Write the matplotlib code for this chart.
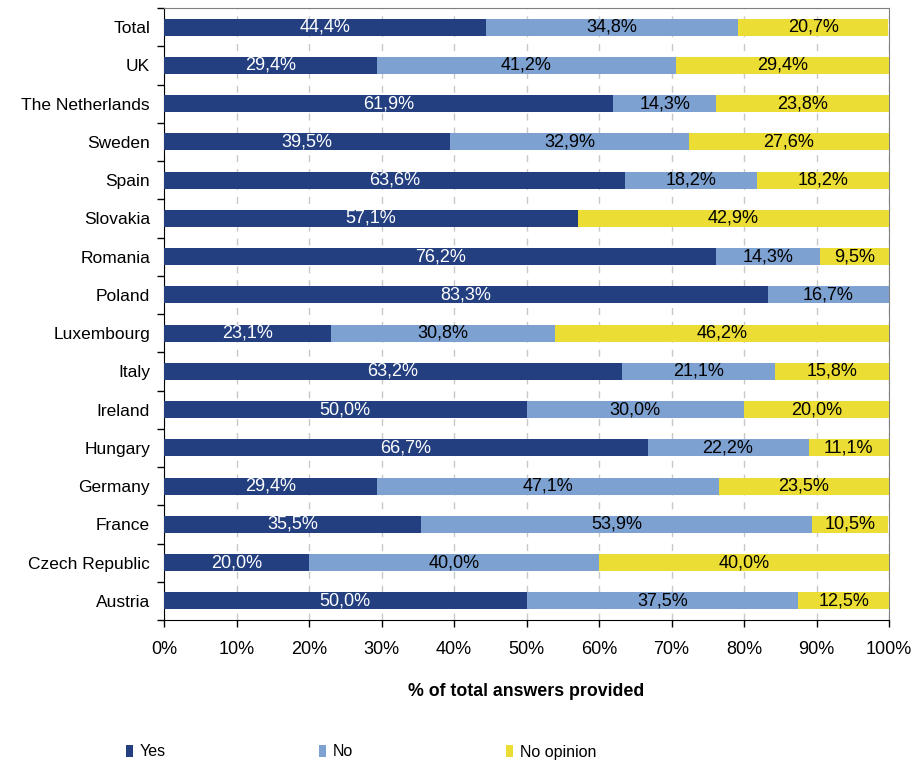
import numpy as np
import matplotlib.pyplot as plt

plt.rcParams['font.family'] = ['Liberation Sans', 'DejaVu Sans']

countries = ['Total', 'UK', 'The Netherlands', 'Sweden', 'Spain', 'Slovakia',
             'Romania', 'Poland', 'Luxembourg', 'Italy', 'Ireland', 'Hungary',
             'Germany', 'France', 'Czech Republic', 'Austria']
yes = [44.4, 29.4, 61.9, 39.5, 63.6, 57.1, 76.2, 83.3, 23.1, 63.2, 50.0, 66.7,
       29.4, 35.5, 20.0, 50.0]
no = [34.8, 41.2, 14.3, 32.9, 18.2, 0.0, 14.3, 16.7, 30.8, 21.1, 30.0, 22.2,
      47.1, 53.9, 40.0, 37.5]
no_opinion = [20.7, 29.4, 23.8, 27.6, 18.2, 42.9, 9.5, 0.0, 46.2, 15.8, 20.0,
              11.1, 23.5, 10.5, 40.0, 12.5]

c_yes = '#233F80'
c_no = '#7DA1D1'
c_nop = '#EBDD33'

fig = plt.figure(figsize=(9.14, 7.65), dpi=100)
ax = fig.add_axes([164 / 914, 1 - 620 / 765, 725 / 914, 612 / 765])

y = np.arange(len(countries))
yes = np.array(yes)
no = np.array(no)
no_opinion = np.array(no_opinion)
h = 0.45

ax.barh(y, yes, height=h, color=c_yes, label='Yes', zorder=3)
ax.barh(y, no, left=yes, height=h, color=c_no, label='No', zorder=3)
ax.barh(y, no_opinion, left=yes + no, height=h, color=c_nop,
        label='No opinion', zorder=3)

def fmt(v):
    return ('%.1f%%' % v).replace('.', ',')

fs = 13
for i in range(len(countries)):
    ax.text(yes[i] / 2, y[i], fmt(yes[i]), color='white', ha='center',
            va='center', fontsize=fs, zorder=4)
    if no[i] > 0:
        ax.text(yes[i] + no[i] / 2, y[i], fmt(no[i]), color='black',
                ha='center', va='center', fontsize=fs, zorder=4)
    if no_opinion[i] > 0:
        ax.text(yes[i] + no[i] + no_opinion[i] / 2, y[i], fmt(no_opinion[i]),
                color='black', ha='center', va='center', fontsize=fs,
                zorder=4)

ax.set_xlim(0, 100)
ax.set_ylim(len(countries) - 0.5, -0.5)
ax.set_xticks(np.arange(0, 101, 10))
ax.set_xticklabels(['%d%%' % t for t in range(0, 101, 10)], fontsize=13)
ax.set_yticks(y)
ax.set_yticklabels(countries, fontsize=12.5)
ax.tick_params(axis='y', length=0, pad=10)
ax.set_yticks(np.arange(-0.5, len(countries), 1), minor=True)
ax.tick_params(axis='y', which='minor', length=5, width=1, direction='out')
ax.tick_params(axis='x', length=5, width=1, direction='out', pad=10)

ax.xaxis.grid(True, linestyle=(0, (5, 5)), color='#C8C8C8', linewidth=1,
              zorder=0)
for s in ['top', 'right']:
    ax.spines[s].set_color('#808080')
ax.spines['left'].set_color('black')
ax.spines['bottom'].set_color('black')

ax.set_xlabel('% of total answers provided', fontsize=12.8, fontweight='bold',
              labelpad=18)

handles, labels = ax.get_legend_handles_labels()
xs = [124, 317, 504]
for hd, lb, xp in zip(handles, labels, xs):
    fig.legend([hd], [lb], loc='center left',
               bbox_to_anchor=(xp / 914 - 0.014, 1 - 752 / 765), frameon=False,
               handlelength=0.45, handleheight=0.85, handletextpad=0.45,
               fontsize=11.5)

fig.savefig('out.png', dpi=100)
